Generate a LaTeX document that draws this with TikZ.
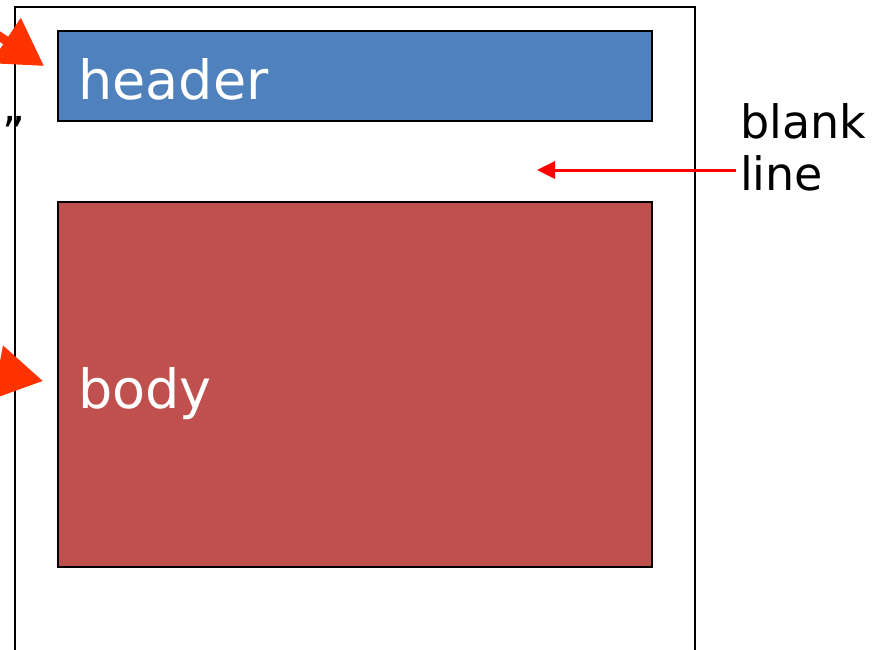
\documentclass[tikz,border=0pt]{standalone}
\usepackage{fontspec}
\setmainfont{DejaVu Sans}
\usetikzlibrary{arrows.meta}
\definecolor{hdrblue}{HTML}{4F81BD}
\definecolor{bodyred}{HTML}{C0504D}
\definecolor{callout}{HTML}{FF3300}
\tikzset{
  box/.style={draw=black, line width=2.2pt},
  lbl/.style={anchor=base west, inner sep=0pt, font=\fontsize{54}{58}\selectfont, text=white},
  side/.style={anchor=base west, inner sep=0pt, font=\fontsize{46}{50}\selectfont, text=black},
  bigarrow/.style={draw=callout, line width=9pt, -{Triangle[length=46pt,width=52pt]}, color=callout},
  thinarrow/.style={draw=red, line width=3pt, -{Triangle[length=18pt,width=17pt]}, color=red}
}
\begin{document}
\begin{tikzpicture}[x=1pt,y=-1pt]
\useasboundingbox (0,0) rectangle (875,649);
\clip (0,0) rectangle (875,649);
\draw[line width=2.2pt] (15,660) -- (15,7) -- (695,7) -- (695,660);
\path[box, fill=hdrblue] (58,31) rectangle (652,121);
\path[box, fill=bodyred] (58,202) rectangle (652,567);
\node[lbl] (hdr) at (78,99) {header};
\node[lbl] (bdy) at (78,408) {body};
\node[side] (blank) at (740,138) {blank};
\node[side] (line) at (740,190) {line};
\coordinate (gap) at (537,170);
\coordinate (hdrtail) at (-22,22);
\coordinate (hdrtip) at (44,66);
\coordinate (bdytail) at (-24,368);
\coordinate (bdytip) at (43,381);
\draw[bigarrow] (hdrtail) -- (hdrtip);
\draw[bigarrow] (bdytail) -- (bdytip);
\draw[thinarrow] (line.west |- gap) ++(-4,0) -- (gap);
\node[anchor=base west, inner sep=0pt, font=\fontsize{44}{48}\selectfont] (quote) at (2,148) {”};
\end{tikzpicture}
\end{document}
